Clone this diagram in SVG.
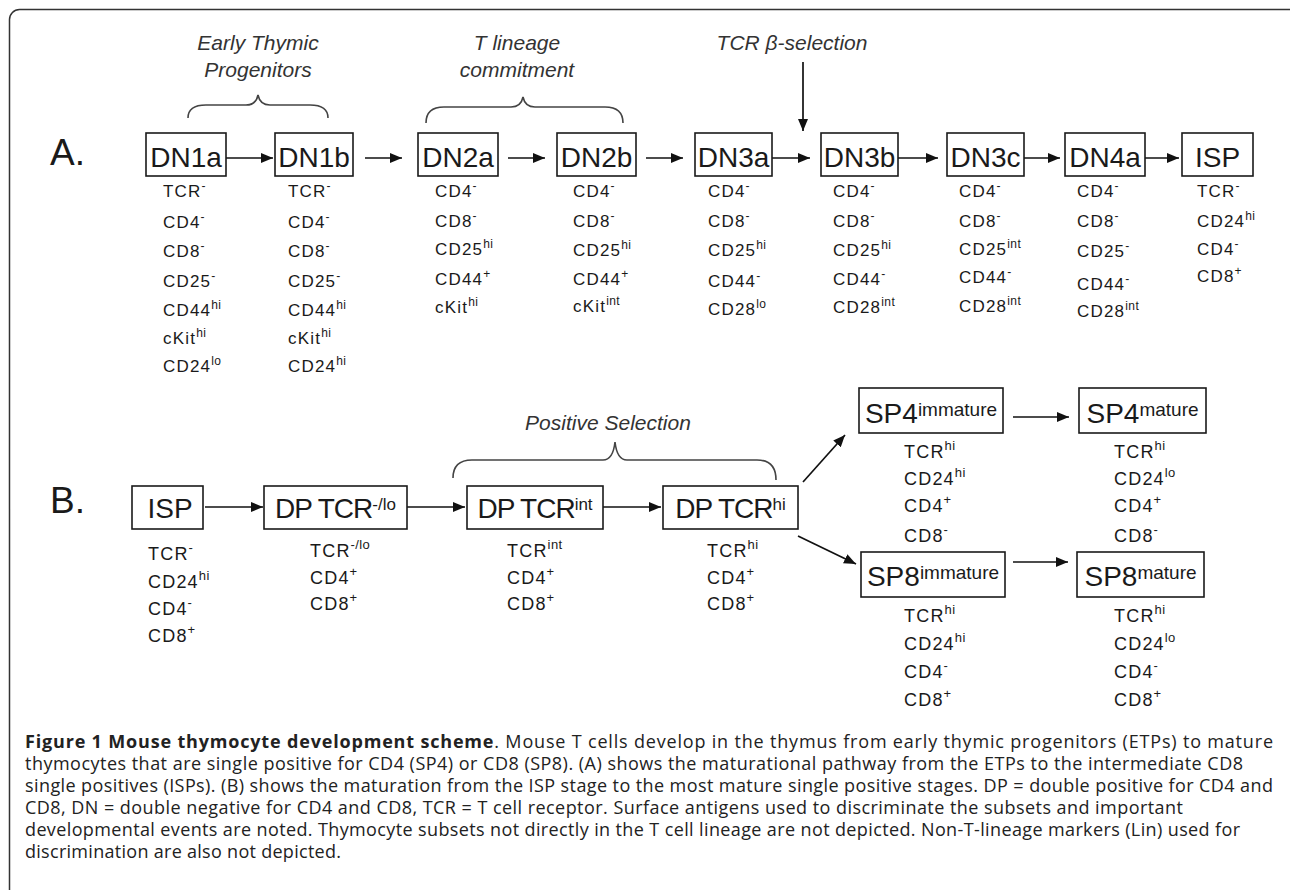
<svg xmlns="http://www.w3.org/2000/svg" width="1290" height="890" viewBox="0 0 1290 890">
<style>
.t{font-family:"Liberation Sans",Arial,sans-serif;fill:#1a1a1a}
.m{font-size:17px;letter-spacing:1.2px}
.mb{font-size:18px;letter-spacing:1.2px}
.s{font-size:12px;letter-spacing:0.4px}
.s2{font-size:13px;letter-spacing:0.4px}
.bx{fill:#fff;stroke:#1a1a1a;stroke-width:1.6}
.bl{font-size:28px;text-anchor:middle}
.bs{font-size:17px}
.it{font-family:"Liberation Sans",Arial,sans-serif;font-style:italic;font-size:21px;text-anchor:middle;fill:#333}
.ar{stroke:#111;stroke-width:1.7;fill:none;marker-end:url(#ah)}
.br{stroke:#444;stroke-width:1.6;fill:none}
.cap{font-family:"Open Sans",sans-serif;font-size:18px;fill:#222}
.lab{font-size:37px}
</style>
<defs>
<marker id="ah" viewBox="0 0 12 10" refX="12" refY="5" markerWidth="12" markerHeight="10" markerUnits="userSpaceOnUse" orient="auto">
<path d="M0,0 L12,5 L0,10 z" fill="#111"/>
</marker>
</defs>
<rect x="9.5" y="9.5" width="1290" height="900" rx="10" fill="#fff" stroke="#333" stroke-width="1.5"/>

<text class="t lab" x="50" y="165">A.</text>
<text class="t lab" x="50" y="513">B.</text>

<g id="annotations">
<text class="it" x="258" y="50">Early Thymic</text>
<text class="it" x="258" y="77">Progenitors</text>
<text class="it" x="517" y="50">T lineage</text>
<text class="it" x="517" y="77">commitment</text>
<text class="it" x="792" y="50">TCR β-selection</text>
<text class="it" x="608" y="430">Positive Selection</text>
<path class="br" d="M188,118 Q188,105 206,105 L246,105 Q256,105 258,95 Q260,105 270,105 L310,105 Q328,105 328,118"/>
<path class="br" d="M426,123 Q426,107 444,107 L511,107 Q521,107 523,97 Q525,107 535,107 L605,107 Q623,107 623,123"/>
<path class="br" d="M453,478 Q453,460 472,460 L603,460 Q613,460 615,442 Q617,460 627,460 L757,460 Q776,460 776,480"/>
</g>

<g id="connectors">
<line class="ar" x1="226" y1="158" x2="273" y2="158"/>
<line class="ar" x1="365" y1="158" x2="402" y2="158"/>
<line class="ar" x1="508" y1="158" x2="545" y2="158"/>
<line class="ar" x1="646" y1="158" x2="683" y2="158"/>
<line class="ar" x1="772" y1="158" x2="810" y2="158"/>
<line class="ar" x1="898" y1="158" x2="938" y2="158"/>
<line class="ar" x1="1024" y1="158" x2="1060" y2="158"/>
<line class="ar" x1="1145" y1="158" x2="1179" y2="158"/>
<line class="ar" x1="803" y1="62" x2="803" y2="131"/>
<line class="ar" x1="205" y1="507" x2="263" y2="507"/>
<line class="ar" x1="407" y1="507" x2="465" y2="507"/>
<line class="ar" x1="603" y1="507" x2="661" y2="507"/>
<line class="ar" x1="803" y1="482" x2="845" y2="435"/>
<line class="ar" x1="798" y1="536" x2="856" y2="564"/>
<line class="ar" x1="1013" y1="417" x2="1069" y2="417"/>
<line class="ar" x1="1013" y1="562" x2="1068" y2="562"/>
</g>

<g id="DN1a">
<rect class="bx" x="146" y="133" width="80" height="43"/>
<text class="t bl" x="186" y="167">DN1a</text>
<g class="t m">
<text x="163" y="197">TCR<tspan class="s" dy="-7">-</tspan></text>
<text x="163" y="228">CD4<tspan class="s" dy="-7">-</tspan></text>
<text x="163" y="257">CD8<tspan class="s" dy="-7">-</tspan></text>
<text x="163" y="287">CD25<tspan class="s" dy="-7">-</tspan></text>
<text x="163" y="316">CD44<tspan class="s" dy="-7">hi</tspan></text>
<text x="163" y="344">cKit<tspan class="s" dy="-7">hi</tspan></text>
<text x="163" y="372">CD24<tspan class="s" dy="-7">lo</tspan></text>
</g>
</g>

<g id="DN1b">
<rect class="bx" x="275" y="133" width="78" height="43"/>
<text class="t bl" x="314" y="167">DN1b</text>
<g class="t m">
<text x="288" y="197">TCR<tspan class="s" dy="-7">-</tspan></text>
<text x="288" y="228">CD4<tspan class="s" dy="-7">-</tspan></text>
<text x="288" y="257">CD8<tspan class="s" dy="-7">-</tspan></text>
<text x="288" y="287">CD25<tspan class="s" dy="-7">-</tspan></text>
<text x="288" y="316">CD44<tspan class="s" dy="-7">hi</tspan></text>
<text x="288" y="344">cKit<tspan class="s" dy="-7">hi</tspan></text>
<text x="288" y="372">CD24<tspan class="s" dy="-7">hi</tspan></text>
</g>
</g>

<g id="DN2a">
<rect class="bx" x="418" y="133" width="80" height="43"/>
<text class="t bl" x="458" y="167">DN2a</text>
<g class="t m">
<text x="435" y="197">CD4<tspan class="s" dy="-7">-</tspan></text>
<text x="435" y="227">CD8<tspan class="s" dy="-7">-</tspan></text>
<text x="435" y="255">CD25<tspan class="s" dy="-7">hi</tspan></text>
<text x="435" y="285">CD44<tspan class="s" dy="-7">+</tspan></text>
<text x="435" y="313">cKit<tspan class="s" dy="-7">hi</tspan></text>
</g>
</g>

<g id="DN2b">
<rect class="bx" x="557" y="133" width="79" height="43"/>
<text class="t bl" x="596.5" y="167">DN2b</text>
<g class="t m">
<text x="573" y="197">CD4<tspan class="s" dy="-7">-</tspan></text>
<text x="573" y="227">CD8<tspan class="s" dy="-7">-</tspan></text>
<text x="573" y="256">CD25<tspan class="s" dy="-7">hi</tspan></text>
<text x="573" y="285">CD44<tspan class="s" dy="-7">+</tspan></text>
<text x="573" y="312">cKit<tspan class="s" dy="-7">int</tspan></text>
</g>
</g>

<g id="DN3a">
<rect class="bx" x="695" y="133" width="77" height="43"/>
<text class="t bl" x="733.5" y="167">DN3a</text>
<g class="t m">
<text x="708" y="197">CD4<tspan class="s" dy="-7">-</tspan></text>
<text x="708" y="227">CD8<tspan class="s" dy="-7">-</tspan></text>
<text x="708" y="256">CD25<tspan class="s" dy="-7">hi</tspan></text>
<text x="708" y="287">CD44<tspan class="s" dy="-7">-</tspan></text>
<text x="708" y="315">CD28<tspan class="s" dy="-7">lo</tspan></text>
</g>
</g>

<g id="DN3b">
<rect class="bx" x="821" y="133" width="77" height="43"/>
<text class="t bl" x="859.5" y="167">DN3b</text>
<g class="t m">
<text x="833" y="197">CD4<tspan class="s" dy="-7">-</tspan></text>
<text x="833" y="227">CD8<tspan class="s" dy="-7">-</tspan></text>
<text x="833" y="256">CD25<tspan class="s" dy="-7">hi</tspan></text>
<text x="833" y="285">CD44<tspan class="s" dy="-7">-</tspan></text>
<text x="833" y="313">CD28<tspan class="s" dy="-7">int</tspan></text>
</g>
</g>

<g id="DN3c">
<rect class="bx" x="947" y="133" width="77" height="43"/>
<text class="t bl" x="985.5" y="167">DN3c</text>
<g class="t m">
<text x="959" y="197">CD4<tspan class="s" dy="-7">-</tspan></text>
<text x="959" y="227">CD8<tspan class="s" dy="-7">-</tspan></text>
<text x="959" y="255">CD25<tspan class="s" dy="-7">int</tspan></text>
<text x="959" y="283">CD44<tspan class="s" dy="-7">-</tspan></text>
<text x="959" y="312">CD28<tspan class="s" dy="-7">int</tspan></text>
</g>
</g>

<g id="DN4a">
<rect class="bx" x="1065" y="133" width="80" height="43"/>
<text class="t bl" x="1105" y="167">DN4a</text>
<g class="t m">
<text x="1077" y="197">CD4<tspan class="s" dy="-7">-</tspan></text>
<text x="1077" y="227">CD8<tspan class="s" dy="-7">-</tspan></text>
<text x="1077" y="257">CD25<tspan class="s" dy="-7">-</tspan></text>
<text x="1077" y="290">CD44<tspan class="s" dy="-7">-</tspan></text>
<text x="1077" y="317">CD28<tspan class="s" dy="-7">int</tspan></text>
</g>
</g>

<g id="ISP-A">
<rect class="bx" x="1182" y="133" width="71" height="43"/>
<text class="t bl" x="1217.5" y="167">ISP</text>
<g class="t m">
<text x="1197" y="197">TCR<tspan class="s" dy="-7">-</tspan></text>
<text x="1197" y="227">CD24<tspan class="s" dy="-7">hi</tspan></text>
<text x="1197" y="255">CD4<tspan class="s" dy="-7">-</tspan></text>
<text x="1197" y="282">CD8<tspan class="s" dy="-7">+</tspan></text>
</g>
</g>

<g id="ISP-B">
<rect class="bx" x="132" y="486" width="71" height="43"/>
<text class="t bl" x="170" y="518">ISP</text>
<g class="t mb">
<text x="148" y="560">TCR<tspan class="s2" dy="-8">-</tspan></text>
<text x="148" y="588">CD24<tspan class="s2" dy="-8">hi</tspan></text>
<text x="148" y="615">CD4<tspan class="s2" dy="-8">-</tspan></text>
<text x="148" y="642">CD8<tspan class="s2" dy="-8">+</tspan></text>
</g>
</g>

<g id="DP-TCRlo">
<rect class="bx" x="264" y="486" width="143" height="43"/>
<text class="t bl" x="335.5" y="518" letter-spacing="-1">DP TCR<tspan class="bs" dy="-8" letter-spacing="0">-/lo</tspan></text>
<g class="t mb">
<text x="310" y="557">TCR<tspan class="s2" dy="-8">-/lo</tspan></text>
<text x="310" y="584">CD4<tspan class="s2" dy="-8">+</tspan></text>
<text x="310" y="610">CD8<tspan class="s2" dy="-8">+</tspan></text>
</g>
</g>

<g id="DP-TCRint">
<rect class="bx" x="467" y="486" width="136" height="43"/>
<text class="t bl" x="535" y="518" letter-spacing="-1">DP TCR<tspan class="bs" dy="-8" letter-spacing="0">int</tspan></text>
<g class="t mb">
<text x="507" y="557">TCR<tspan class="s2" dy="-8">int</tspan></text>
<text x="507" y="584">CD4<tspan class="s2" dy="-8">+</tspan></text>
<text x="507" y="610">CD8<tspan class="s2" dy="-8">+</tspan></text>
</g>
</g>

<g id="DP-TCRhi">
<rect class="bx" x="663" y="486" width="135" height="43"/>
<text class="t bl" x="730.5" y="518" letter-spacing="-1">DP TCR<tspan class="bs" dy="-8" letter-spacing="0">hi</tspan></text>
<g class="t mb">
<text x="707" y="557">TCR<tspan class="s2" dy="-8">hi</tspan></text>
<text x="707" y="584">CD4<tspan class="s2" dy="-8">+</tspan></text>
<text x="707" y="610">CD8<tspan class="s2" dy="-8">+</tspan></text>
</g>
</g>

<g id="SP4-immature">
<rect class="bx" x="859" y="388" width="144" height="45"/>
<text class="t bl" x="931" y="423">SP4<tspan font-size="19" dy="-7">immature</tspan></text>
<g class="t mb">
<text x="904" y="458">TCR<tspan class="s2" dy="-8">hi</tspan></text>
<text x="904" y="485">CD24<tspan class="s2" dy="-8">hi</tspan></text>
<text x="904" y="512">CD4<tspan class="s2" dy="-8">+</tspan></text>
<text x="904" y="542">CD8<tspan class="s2" dy="-8">-</tspan></text>
</g>
</g>

<g id="SP4-mature">
<rect class="bx" x="1079" y="388" width="127" height="45"/>
<text class="t bl" x="1142.5" y="423">SP4<tspan font-size="19" dy="-7">mature</tspan></text>
<g class="t mb">
<text x="1114" y="458">TCR<tspan class="s2" dy="-8">hi</tspan></text>
<text x="1114" y="485">CD24<tspan class="s2" dy="-8">lo</tspan></text>
<text x="1114" y="512">CD4<tspan class="s2" dy="-8">+</tspan></text>
<text x="1114" y="542">CD8<tspan class="s2" dy="-8">-</tspan></text>
</g>
</g>

<g id="SP8-immature">
<rect class="bx" x="861" y="552" width="144" height="45"/>
<text class="t bl" x="933" y="586">SP8<tspan font-size="19" dy="-7">immature</tspan></text>
<g class="t mb">
<text x="904" y="622">TCR<tspan class="s2" dy="-8">hi</tspan></text>
<text x="904" y="650">CD24<tspan class="s2" dy="-8">hi</tspan></text>
<text x="904" y="678">CD4<tspan class="s2" dy="-8">-</tspan></text>
<text x="904" y="706">CD8<tspan class="s2" dy="-8">+</tspan></text>
</g>
</g>

<g id="SP8-mature">
<rect class="bx" x="1077" y="552" width="127" height="45"/>
<text class="t bl" x="1140.5" y="586">SP8<tspan font-size="19" dy="-7">mature</tspan></text>
<g class="t mb">
<text x="1114" y="622">TCR<tspan class="s2" dy="-8">hi</tspan></text>
<text x="1114" y="650">CD24<tspan class="s2" dy="-8">lo</tspan></text>
<text x="1114" y="678">CD4<tspan class="s2" dy="-8">-</tspan></text>
<text x="1114" y="706">CD8<tspan class="s2" dy="-8">+</tspan></text>
</g>
</g>

<g id="caption" class="cap">
<text x="25" y="748" textLength="1248" lengthAdjust="spacing"><tspan font-weight="bold">Figure 1 Mouse thymocyte development scheme</tspan>. Mouse T cells develop in the thymus from early thymic progenitors (ETPs) to mature</text>
<text x="25" y="770" textLength="1218" lengthAdjust="spacing">thymocytes that are single positive for CD4 (SP4) or CD8 (SP8). (A) shows the maturational pathway from the ETPs to the intermediate CD8</text>
<text x="25" y="792" textLength="1248" lengthAdjust="spacing">single positives (ISPs). (B) shows the maturation from the ISP stage to the most mature single positive stages. DP = double positive for CD4 and</text>
<text x="25" y="814" textLength="1158" lengthAdjust="spacing">CD8, DN = double negative for CD4 and CD8, TCR = T cell receptor. Surface antigens used to discriminate the subsets and important</text>
<text x="25" y="836" textLength="1215" lengthAdjust="spacing">developmental events are noted. Thymocyte subsets not directly in the T cell lineage are not depicted. Non-T-lineage markers (Lin) used for</text>
<text x="25" y="858" textLength="316" lengthAdjust="spacing">discrimination are also not depicted.</text>
</g>
</svg>
